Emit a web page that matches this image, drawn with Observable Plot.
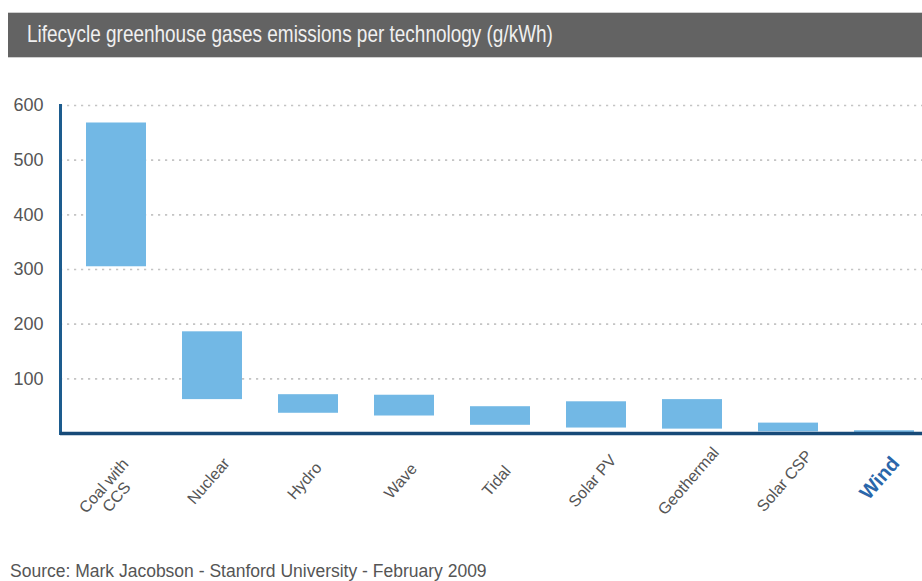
<!DOCTYPE html>
<html><head><meta charset="utf-8">
<script src="https://cdn.jsdelivr.net/npm/d3@7"></script>
<script src="https://cdn.jsdelivr.net/npm/@observablehq/plot@0.6"></script>
<style>
body{margin:0;background:#fff;width:922px;height:581px;overflow:hidden;font-family:"Liberation Sans",Arial,sans-serif;position:relative}
#title{position:absolute;left:8px;top:12px;width:914px;height:46px;background:#636363;border-top:1px solid #cfcfcf;border-bottom:1px solid #cfcfcf;box-sizing:border-box}
#title span{position:absolute;left:19px;top:9px;line-height:24px;color:#f0f0f0;font-size:24px;font-family:"Liberation Sans",Arial,sans-serif;white-space:nowrap;transform:scaleX(0.79);transform-origin:0 50%}
#chart{position:absolute;left:0;top:60px}
#caption{position:absolute;left:10px;top:563px;line-height:17.5px;font-size:17.5px;color:#555;white-space:nowrap}
</style></head>
<body>
<div id="title"><span>Lifecycle greenhouse gases emissions per technology (g/kWh)</span></div>
<div id="chart"></div>
<div id="caption">Source: Mark Jacobson - Stanford University - February 2009</div>
<script>
const categories = ["Coal with CCS","Nuclear","Hydro","Wave","Tidal","Solar PV","Geothermal","Solar CSP","Wind"];
const tickLabels = ["Coal with\nCCS","Nuclear","Hydro","Wave","Tidal","Solar PV","Geothermal","Solar CSP","Wind"];
const low  = [305, 62, 37, 32, 15, 10, 8, 3, 2];
const high = [568, 186, 71, 70, 49, 58, 62, 19, 5];
const yTicks = [100, 200, 300, 400, 500, 600];

const data = categories.map((c, i) => ({tech: c, label: tickLabels[i], low: low[i], high: high[i]}));
const plain = data.filter(d => d.tech !== "Coal with CCS" && d.tech !== "Wind");
const coal = data.filter(d => d.tech === "Coal with CCS");
const wind = data.filter(d => d.tech === "Wind");

const chart = Plot.plot({
  width: 922,
  height: 490,
  marginLeft: 60,
  marginRight: 0,
  marginTop: 45,
  marginBottom: 117,
  style: {fontFamily: "'Liberation Sans', Arial, sans-serif", background: "transparent", overflow: "visible"},
  x: {domain: categories, range: [66, 935], paddingInner: 0.37, paddingOuter: 0.185, axis: null},
  y: {domain: [0, 600], axis: null},
  marks: [
    Plot.ruleY(yTicks, {stroke: "#c4c4c4", strokeWidth: 1.6, strokeDasharray: "2.2,4.8"}),
    Plot.barY(data, {x: "tech", y1: "low", y2: "high", fill: "#72b8e5"}),
    Plot.axisY({ticks: yTicks, tickSize: 0, tickPadding: 17, fontSize: 18, fill: "#555", label: null}),
    Plot.frame({anchor: "left", stroke: "#1d5c8e", strokeWidth: 3}),
    Plot.ruleY([0], {stroke: "#174a78", strokeWidth: 3.5}),
    Plot.text(plain, {x: "tech", frameAnchor: "bottom", text: "label", rotate: -49, dy: 51, fontSize: 16, fill: "#555"}),
    Plot.text(coal, {x: "tech", frameAnchor: "bottom", text: "label", rotate: -49, dy: 67, dx: 4, fontSize: 16, fill: "#555", lineHeight: 1.05}),
    Plot.text(wind, {x: "tech", frameAnchor: "bottom", text: "label", rotate: -49, dy: 49, fontSize: 20, fontWeight: "bold", fill: "#2a66aa"})
  ]
});
document.getElementById("chart").appendChild(chart);
</script>
</body></html>
